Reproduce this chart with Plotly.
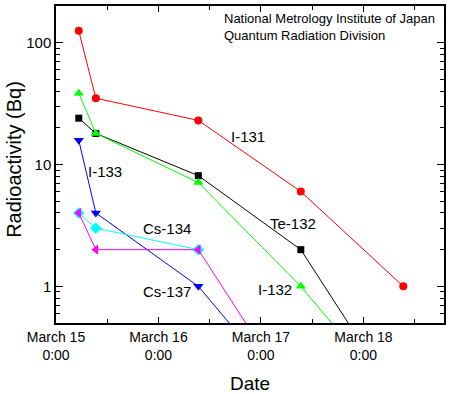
import plotly.graph_objects as go
import math

# ---- data ----
t1 = "2011-03-15 05:20"
t2 = "2011-03-15 09:20"
t3 = "2011-03-16 09:20"
t4 = "2011-03-17 09:20"
t5 = "2011-03-18 09:20"

i131_x = [t1, t2, t3, t4, t5]
i131_y = [125, 35, 23, 6.0, 1.0]

te132_x = [t1, t2, t3, t4, t5]
te132_y = [24, 18, 8.1, 2.0, 0.1]

i132_x = [t1, t2, t3, t4, t5]
i132_y = [38.5, 18, 7.1, 1.0, 0.1]

i133_x = [t1, t2, t3, t4]
i133_y = [15.8, 4.0, 1.0, 0.1]

cs134_x = [t1, t2, t3]
cs134_y = [4.0, 3.0, 2.0]

cs137_x = [t1, t2, t3, t4]
cs137_y = [4.0, 2.0, 2.0, 0.1]

x_tickvals = ["2011-03-15", "2011-03-16", "2011-03-17", "2011-03-18"]
x_ticktext = ["March 15<br>0:00", "March 16<br>0:00", "March 17<br>0:00", "March 18<br>0:00"]
y_tickvals = [1, 10, 100]
y_ticktext = ["1", "10", "100"]
y_minor = [0.6, 0.7, 0.8, 0.9, 2, 3, 4, 5, 6, 7, 8, 9,
           20, 30, 40, 50, 60, 70, 80, 90]

FONT = "Liberation Sans, Arial, sans-serif"

series = [
    ("I-131", i131_x, i131_y, "#ff0000", "circle", 8),
    ("Te-132", te132_x, te132_y, "#000000", "square", 7),
    ("I-132", i132_x, i132_y, "#00ff00", "triangle-up", 9),
    ("I-133", i133_x, i133_y, "#0000ff", "triangle-down", 9),
    ("Cs-134", cs134_x, cs134_y, "#00ffff", "diamond", 9),
    ("Cs-137", cs137_x, cs137_y, "#ff00ff", "triangle-left", 9),
]

fig = go.Figure()
for name, xs, ys, col, sym, sz in series:
    fig.add_trace(go.Scatter(
        x=xs, y=ys, name=name, mode="lines+markers",
        line=dict(color=col, width=1),
        marker=dict(color=col, symbol=sym, size=sz, line=dict(width=0)),
    ))

fig.update_layout(
    width=450, height=394,
    margin=dict(l=56, r=4, t=5, b=71),
    paper_bgcolor="white", plot_bgcolor="white",
    showlegend=False,
    font=dict(family=FONT, size=14, color="black"),
)

fig.update_xaxes(
    type="date",
    range=["2011-03-15 00:00", "2011-03-18 18:52"],
    tickmode="array", tickvals=x_tickvals, ticktext=x_ticktext,
    ticks="inside", ticklen=6, tickcolor="black", tickwidth=1,
    minor=dict(tickmode="linear", tick0="2011-03-15 12:00", dtick=86400000,
               ticks="inside", ticklen=4, tickcolor="black"),
    showline=True, linecolor="black", linewidth=1.5, mirror="allticks",
    showgrid=False, zeroline=False,
    tickfont=dict(size=14, family=FONT),
)
fig.update_yaxes(
    type="log",
    range=[math.log10(0.5), math.log10(200)],
    tickmode="array", tickvals=y_tickvals, ticktext=y_ticktext,
    ticks="inside", ticklen=7, tickcolor="black", tickwidth=1,
    minor=dict(tickmode="array", tickvals=y_minor,
               ticks="inside", ticklen=4, tickcolor="black"),
    showline=True, linecolor="black", linewidth=1.5, mirror="allticks",
    showgrid=False, zeroline=False,
    tickfont=dict(size=15, family=FONT),
)

labels = [
    ("I-131", 0.494, 0.588),
    ("I-133", 0.126, 0.478),
    ("Te-132", 0.610, 0.315),
    ("Cs-134", 0.285, 0.299),
    ("Cs-137", 0.285, 0.098),
    ("I-132", 0.564, 0.107),
]
for txt, px, py in labels:
    fig.add_annotation(text=txt, xref="paper", yref="paper", x=px, y=py,
                       xanchor="center", yanchor="middle", showarrow=False,
                       font=dict(size=15, family=FONT, color="black"))

fig.add_annotation(text="National Metrology Institute of Japan<br>Quantum Radiation Division",
                   xref="paper", yref="paper", x=0.428, y=0.934,
                   xanchor="left", yanchor="middle", align="left", showarrow=False,
                   font=dict(size=13, family=FONT, color="black"))

fig.add_annotation(text="Radioactivity (Bq)", xref="paper", yref="paper",
                   x=-0.108, y=0.515, textangle=-90, xanchor="center", yanchor="middle",
                   showarrow=False, font=dict(size=20, family=FONT, color="black"))
fig.add_annotation(text="Date", xref="paper", yref="paper",
                   x=0.501, y=-0.192, xanchor="center", yanchor="middle",
                   showarrow=False, font=dict(size=19, family=FONT, color="black"))

fig.write_html("out.html", config={"displayModeBar": False},
               post_script="document.body.style.margin='0';")
